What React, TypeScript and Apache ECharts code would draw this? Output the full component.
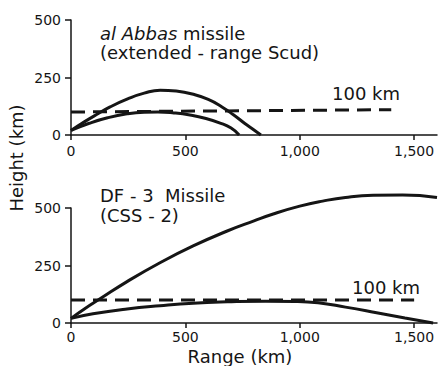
import React, { useEffect, useRef } from "react";
import * as echarts from "echarts";

const xTicks = [0, 500, 1000, 1500];
const yTicks = [0, 250, 500];

// al Abbas (extended-range Scud) trajectories [range km, height km]
const abbasHigh = [
  [0, 20], [50, 52], [100, 82], [171, 122], [250, 158], [320, 182], [390, 195],
  [460, 191], [530, 178], [600, 155], [660, 122], [710, 88], [760, 50], [800, 22], [830, 0],
];
const abbasLow = [
  [0, 20], [80, 51], [160, 75], [245, 92], [320, 99], [380, 100], [450, 96],
  [520, 87], [590, 72], [652, 52], [700, 30], [735, 0],
];
const abbasLine100 = [[0, 100], [1400, 110]];

// DF-3 (CSS-2) trajectories
const dfHigh = [
  [0, 20], [60, 62], [127, 105], [245, 180], [389, 262], [534, 335], [683, 400],
  [800, 444], [884, 474], [1000, 508], [1100, 530], [1200, 546], [1321, 555],
  [1450, 556], [1600, 546],
];
const dfLow = [
  [0, 20], [96, 40], [245, 61], [389, 75], [534, 86], [683, 92], [850, 95],
  [980, 94], [1080, 88], [1200, 69], [1330, 46], [1460, 22], [1583, 0],
];
const dfLine100 = [[0, 100], [1500, 100]];

const FONT = "DejaVu Sans";
const INK = "#151515";

function fmt(v: number) {
  return v >= 1000 ? Math.floor(v / 1000) + "," + String(v % 1000).padStart(3, "0") : String(v);
}

export default function App() {
  const ref = useRef<HTMLDivElement>(null);
  useEffect(() => {
    if (!ref.current) return;
    const chart = echarts.init(ref.current, undefined, { renderer: "svg" });
    const xAxisBase = (gridIndex: number, margin: number) => ({
      type: "value",
      gridIndex,
      min: 0,
      max: 1600,
      interval: 500,
      axisLine: { show: true, onZero: false, lineStyle: { color: INK, width: 1.5 } },
      axisTick: { show: true, length: 5, customValues: xTicks, lineStyle: { color: INK, width: 1.5 } },
      axisLabel: {
        customValues: xTicks,
        formatter: (v: number) => fmt(v),
        color: INK,
        fontFamily: FONT,
        fontSize: 14,
        margin,
      },
      splitLine: { show: false },
    });
    const yAxisBase = (gridIndex: number) => ({
      type: "value",
      gridIndex,
      min: 0,
      max: 500,
      interval: 250,
      axisLine: { show: true, lineStyle: { color: INK, width: 1.5 } },
      axisTick: { show: true, length: 6, customValues: yTicks, lineStyle: { color: INK, width: 1.5 } },
      axisLabel: { customValues: yTicks, color: INK, fontFamily: FONT, fontSize: 14, margin: 10 },
      splitLine: { show: false },
    });
    const solid = (data: number[][], idx: number) => ({
      type: "line",
      data,
      xAxisIndex: idx,
      yAxisIndex: idx,
      smooth: 0.5,
      clip: false,
      showSymbol: false,
      lineStyle: { color: INK, width: 3 },
    });
    const dashed = (data: number[][], idx: number) => ({
      type: "line",
      data,
      xAxisIndex: idx,
      yAxisIndex: idx,
      showSymbol: false,
      lineStyle: { color: INK, width: 3, type: [14, 8] },
    });
    const txt = (text: string, x: number, y: number, extra: any = {}) => ({
      type: "text",
      x,
      y,
      style: {
        text,
        fill: INK,
        fontFamily: FONT,
        fontSize: 18,
        verticalAlign: "middle",
        ...extra,
      },
    });
    chart.setOption({
      animation: false,
      backgroundColor: "#fff",
      grid: [
        { left: 71, top: 20, width: 366, height: 115 },
        { left: 71, top: 208, width: 366, height: 115 },
      ],
      xAxis: [xAxisBase(0, 9), xAxisBase(1, 7)],
      yAxis: [yAxisBase(0), yAxisBase(1)],
      series: [
        solid(abbasHigh, 0),
        solid(abbasLow, 0),
        dashed(abbasLine100, 0),
        solid(dfHigh, 1),
        solid(dfLow, 1),
        dashed(dfLine100, 1),
      ],
      graphic: [
        txt("{i|al Abbas} missile", 100, 33, {
          rich: { i: { fontStyle: "italic", fontFamily: FONT, fontSize: 18, fill: INK } },
        }),
        txt("(extended - range Scud)", 100, 52),
        txt("100 km", 332, 93),
        txt("DF - 3  Missile", 100, 195),
        txt("(CSS - 2)", 100, 215),
        txt("100 km", 352, 287),
        txt("Range (km)", 240, 356, { align: "center" }),
        {
          type: "text",
          x: 16,
          y: 158,
          rotation: Math.PI / 2,
          style: {
            text: "Height (km)",
            fill: INK,
            fontFamily: FONT,
            fontSize: 18,
            align: "center",
            verticalAlign: "middle",
          },
        },
      ],
    });
    return () => chart.dispose();
  }, []);
  return (
    <div
      ref={ref}
      style={{ position: "fixed", left: 0, top: 0, width: 438, height: 366, background: "#fff" }}
    />
  );
}
